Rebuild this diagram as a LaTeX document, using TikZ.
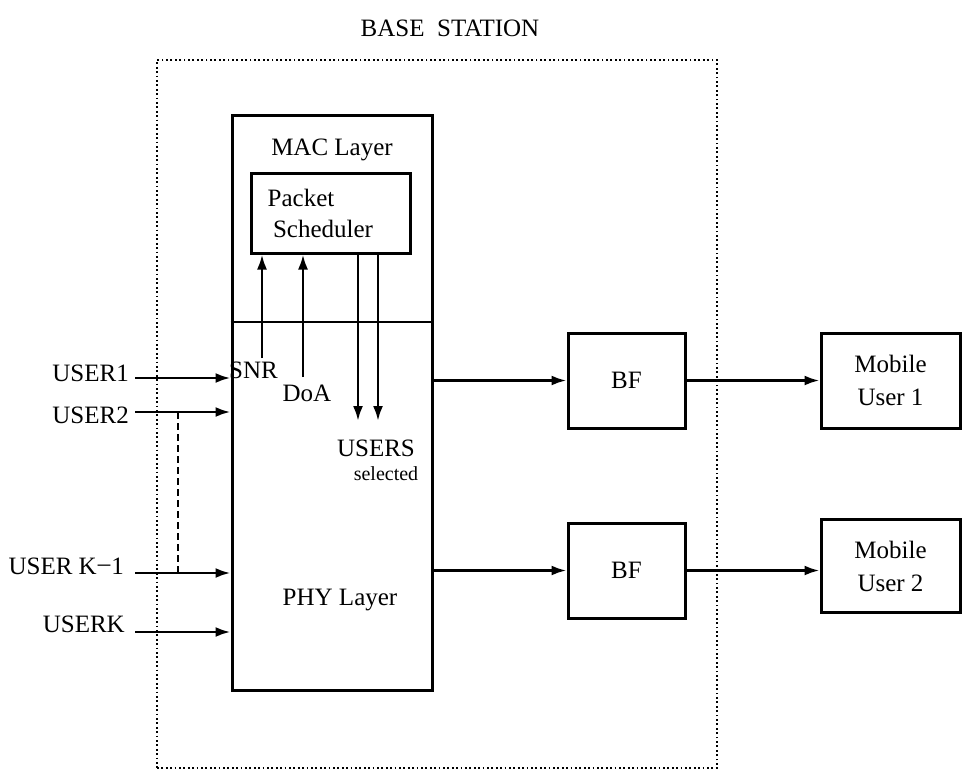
\documentclass[tikz,border=0pt]{standalone}
\usepackage{fontspec}
\setmainfont{Liberation Serif}
\usetikzlibrary{arrows.meta}
\begin{document}
\begin{tikzpicture}[x=1pt,y=-1pt,
  every node/.style={font=\fontsize{25}{31}\selectfont, inner sep=0pt},
  blk/.style={draw, line width=3pt, minimum width=#1},
  arr/.style={line width=2.6pt, -{Latex[length=15pt,width=10pt]}},
  ln/.style={line width=2.6pt}]
\useasboundingbox (0,0) rectangle (964,782);
\fill[white] (0,0) rectangle (964,782);
% base station
\node[draw, line width=2.6pt, dash pattern=on 1.8pt off 2.6pt, minimum width=560pt, minimum height=708pt] (bs) at (437,414) {};
\node (title) at (450,28) {BASE\ \ STATION};
% MAC / PHY
\node[blk=200pt, minimum height=575pt] (layers) at (332,402.5) {};
\coordinate (divl) at (232,322);
\draw[ln] (divl -| layers.west) -- (divl -| layers.east);
\node (mac) at (332,150) {MAC Layer};
\node[blk=159pt, minimum height=80pt] (sched) at (330.5,213) {};
\node (pk) at (301,198) {Packet};
\node (sc) at (323,229) {Scheduler};
% internal arrows
\coordinate (snrend) at (262,358);
\coordinate (doaend) at (303,377);
\coordinate (d1) at (358,421);
\coordinate (d2) at (378,421);
\draw[arr] (snrend) -- (snrend |- sched.south);
\draw[arr] (doaend) -- (doaend |- sched.south);
\draw[arr] (d1 |- sched.south) -- (d1);
\draw[arr] (d2 |- sched.south) -- (d2);
\node[anchor=west] (snr) at (229,370) {SNR};
\node (doa) at (307,393) {DoA};
\node (users) at (376,448) {USERS};
\node[font=\fontsize{20}{24}\selectfont] (sel) at (386,474) {selected};
\node (phy) at (340,600) {PHY Layer};
% inputs
\node[anchor=east] (u1) at (129,373) {USER1};
\node[anchor=east] (u2) at (129,415) {USER2};
\node[anchor=east] (uk1) at (124,566) {USER K\kern1pt\raisebox{0.2ex}{--}\kern1pt1};
\node[anchor=east] (uk) at (125,624) {USERK};
\coordinate (a1) at (135,378);
\coordinate (a2) at (135,412);
\coordinate (a3) at (135,573);
\coordinate (a4) at (135,632);
\draw[arr] (a1) -- (a1 -| layers.west);
\draw[arr] (a2) -- (a2 -| layers.west);
\draw[arr] (a3) -- (a3 -| layers.west);
\draw[arr] (a4) -- (a4 -| layers.west);
\coordinate (dA) at (178,412);
\coordinate (dB) at (178,573);
\draw[line width=2pt, dash pattern=on 7pt off 4pt] (dA) -- (dB);
% BF and mobiles
\node[blk=117pt, minimum height=95pt] (bf1) at (626.5,380.5) {BF};
\node[blk=117pt, minimum height=95pt] (bf2) at (626.5,570.5) {BF};
\node[blk=139pt, minimum height=95pt, align=center] (m1) at (890.5,380.5) {Mobile\\[2pt]User 1};
\node[blk=139pt, minimum height=93pt, align=center] (m2) at (890.5,566) {Mobile\\[2pt]User 2};
\draw[arr] (layers.east |- bf1) -- (bf1.west);
\draw[arr] (layers.east |- bf2) -- (bf2.west);
\draw[arr] (bf1) -- (m1);
\draw[arr] (bf2.east) -- (bf2.east -| m2.west);
\end{tikzpicture}
\end{document}
